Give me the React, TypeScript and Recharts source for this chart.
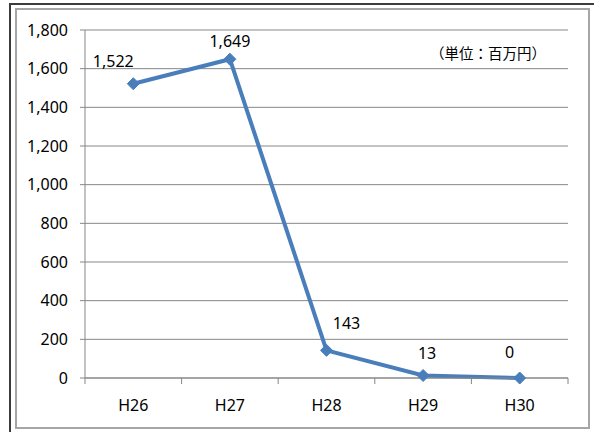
import { CartesianGrid, LabelList, Line, LineChart, XAxis, YAxis } from "recharts";

const YEARS = ["H26", "H27", "H28", "H29", "H30"];
const AMOUNTS = [1522, 1649, 143, 13, 0];
const Y_TICKS = [0, 200, 400, 600, 800, 1000, 1200, 1400, 1600, 1800];

const data = YEARS.map((year, i) => ({ year, amount: AMOUNTS[i] }));

const BLUE = "#4A7EBB";
const AXIS = "#878787";
const INK = "#000";
const FONT = "'Noto Sans', 'Liberation Sans', sans-serif";
const FS = 16;
const HALF_BAND = 483 / 10;

// labels were nudged by hand in the original, one offset per point
const LABEL_SHIFT = [
  [-20, -23],
  [0, -18],
  [20, -27],
  [4, -22],
  [-10, -26],
];

const fmt = (v: number) => v.toLocaleString("en-US");

function Diamond(props: any) {
  const { cx, cy } = props;
  if (cx == null || cy == null) return null;
  const r = 6;
  return (
    <path
      d={`M${cx},${cy - r} L${cx + r},${cy} L${cx},${cy + r} L${cx - r},${cy} Z`}
      fill={BLUE}
      stroke={BLUE}
    />
  );
}

function XTick(props: any) {
  const { x, y, payload, index } = props;
  const top = y - 5;
  return (
    <g>
      <line x1={x - HALF_BAND} x2={x - HALF_BAND} y1={top} y2={top + 6} stroke={AXIS} />
      {index === YEARS.length - 1 && (
        <line x1={x + HALF_BAND} x2={x + HALF_BAND} y1={top} y2={top + 6} stroke={AXIS} />
      )}
      <text
        x={x}
        y={top + 27}
        textAnchor="middle"
        dominantBaseline="central"
        fontSize={FS}
        fontFamily={FONT}
        fill={INK}
      >
        {payload.value}
      </text>
    </g>
  );
}

function PointLabel(props: any) {
  const { x, y, value, index } = props;
  const [dx, dy] = LABEL_SHIFT[index] ?? [0, -20];
  return (
    <text
      x={x + dx}
      y={y + dy}
      textAnchor="middle"
      dominantBaseline="central"
      fontSize={FS}
      fontFamily={FONT}
      fill={INK}
    >
      {fmt(value)}
    </text>
  );
}

export default function App() {
  return (
    <div style={{ position: "absolute", left: 0, top: 0, width: 594, height: 432, background: "#fff" }}>
      {/* frame lines around the chart */}
      <div style={{ position: "absolute", left: 9, top: 3, width: 585, height: 429, borderTop: "2px solid #3c3c3c", borderLeft: "2px solid #3c3c3c" }} />
      <div style={{ position: "absolute", left: 15, top: 8, width: 571, height: 417, border: "2px solid #a6a6a6" }} />
      <div
        style={{
          position: "absolute",
          left: 430,
          top: 42,
          fontSize: 14.5,
          fontFamily: "'Noto Sans CJK JP', sans-serif",
          color: INK,
          whiteSpace: "nowrap",
        }}
      >
        （単位：百万円）
      </div>
      <LineChart
        width={594}
        height={432}
        data={data}
        margin={{ top: 30, right: 26, bottom: 24, left: 0 }}
        style={{ position: "absolute", left: 0, top: 0 }}
      >
        <CartesianGrid vertical={false} stroke={AXIS} strokeWidth={1} />
        <XAxis
          dataKey="year"
          padding={{ left: HALF_BAND, right: HALF_BAND }}
          height={30}
          stroke={AXIS}
          tickLine={false}
          tickSize={5}
          tickMargin={0}
          tick={<XTick />}
          interval={0}
        />
        <YAxis
          width={85}
          domain={[0, 1800]}
          ticks={Y_TICKS}
          tickFormatter={fmt}
          stroke={AXIS}
          tickSize={5}
          tickMargin={12}
          tick={{ fontSize: FS, fontFamily: FONT, fill: INK }}
        />
        <Line
          type="linear"
          dataKey="amount"
          stroke={BLUE}
          strokeWidth={4}
          dot={<Diamond />}
          activeDot={false}
          isAnimationActive={false}
        >
          <LabelList dataKey="amount" content={<PointLabel />} />
        </Line>
      </LineChart>
    </div>
  );
}
